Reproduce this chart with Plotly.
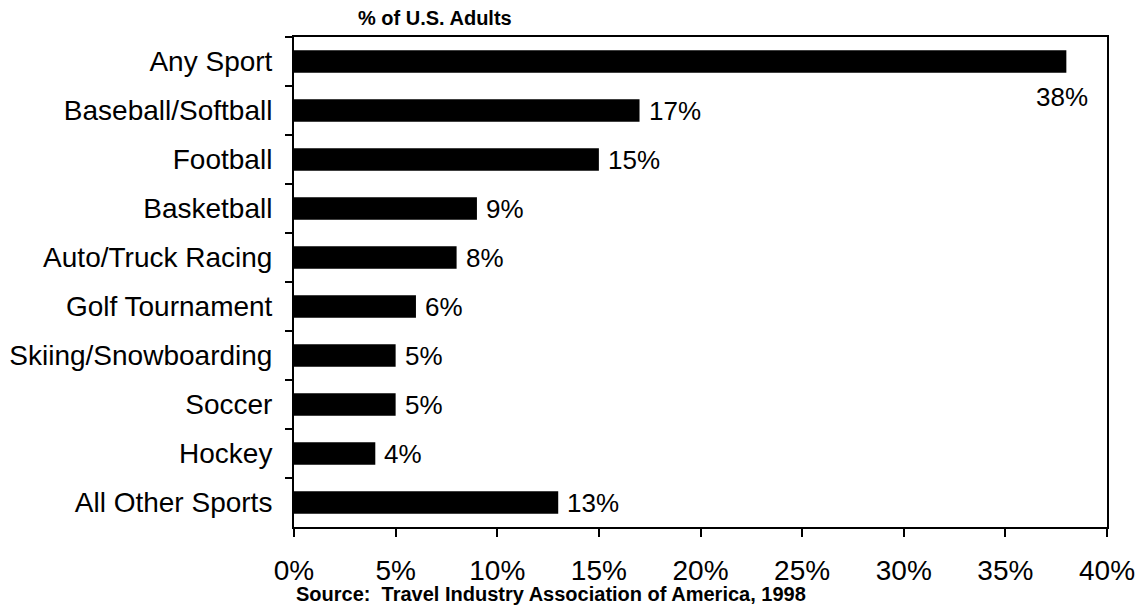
import plotly.graph_objects as go

# Share of U.S. adults attending each sporting event type
categories = ["Any Sport", "Baseball/Softball", "Football", "Basketball",
              "Auto/Truck Racing", "Golf Tournament", "Skiing/Snowboarding",
              "Soccer", "Hockey", "All Other Sports"]
values = [38, 17, 15, 9, 8, 6, 5, 5, 4, 13]
tick_vals = [0, 5, 10, 15, 20, 25, 30, 35, 40]
tick_text = ["0%", "5%", "10%", "15%", "20%", "25%", "30%", "35%", "40%"]

FONT = "Arial, Liberation Sans, sans-serif"

fig = go.Figure(go.Bar(
    x=values, y=categories, orientation="h",
    marker=dict(color="black", line=dict(width=0)),
    width=0.46,
))

annotations = []
for i, (cat, v) in enumerate(zip(categories, values)):
    if i == 0:
        # first label sits under the end of the long bar
        annotations.append(dict(x=v, y=cat, text=f"{v}%", showarrow=False,
                                xanchor="center", yanchor="middle",
                                xshift=-4, yshift=-35,
                                font=dict(family=FONT, size=26, color="black")))
    else:
        annotations.append(dict(x=v, y=cat, text=f"{v}%", showarrow=False,
                                xanchor="left", yanchor="middle", xshift=7,
                                font=dict(family=FONT, size=26, color="black")))

annotations.append(dict(xref="paper", yref="paper", x=0.173, y=1.0, yshift=6,
                        text="<b>% of U.S. Adults</b>", showarrow=False,
                        xanchor="center", yanchor="bottom",
                        font=dict(family=FONT, size=20, color="black")))
annotations.append(dict(xref="paper", yref="paper", x=0.0, y=0.0, yshift=-54,
                        text="<b>Source:  Travel Industry Association of America, 1998</b>",
                        showarrow=False, xanchor="left", yanchor="top",
                        font=dict(family=FONT, size=20, color="black")))

fig.update_layout(
    width=1140, height=605,
    margin=dict(l=294, r=33, t=37, b=78),
    paper_bgcolor="white", plot_bgcolor="white",
    showlegend=False,
    annotations=annotations,
    xaxis=dict(range=[0, 40], tickvals=tick_vals, ticktext=tick_text,
               showgrid=False, zeroline=False, automargin=False,
               showline=True, linecolor="black", linewidth=2, mirror=True,
               ticks="outside", ticklen=8, tickwidth=2, tickcolor="black",
               tickfont=dict(family=FONT, size=28, color="black"),
               ticklabelstandoff=9),
    yaxis=dict(categoryorder="array", categoryarray=categories,
               range=[9.5, -0.5], showgrid=False, automargin=False,
               showline=True, linecolor="black", linewidth=2, mirror=True,
               ticks="outside", ticklen=7, tickwidth=1.5, tickcolor="black",
               tickson="boundaries",
               tickfont=dict(family=FONT, size=28, color="black"),
               ticklabelstandoff=14),
)

fig.write_html("out.html")
